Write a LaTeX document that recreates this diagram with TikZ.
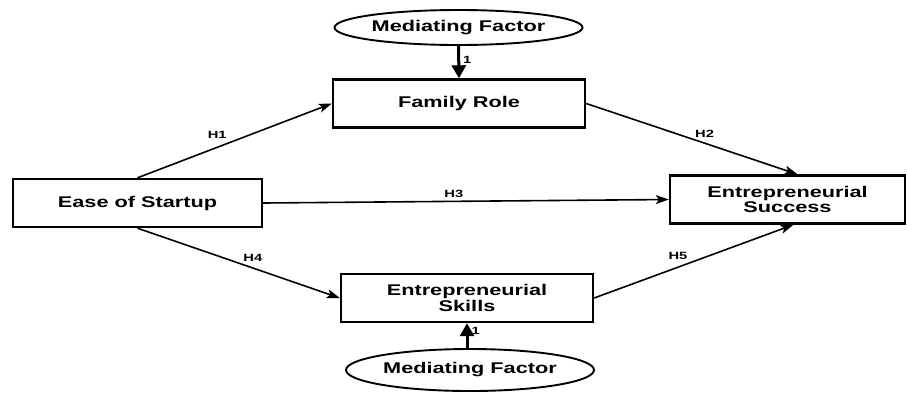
\documentclass[tikz,border=0pt]{standalone}
\usepackage{fontspec}
\setmainfont{Liberation Sans}[FakeStretch=1.4]
\usetikzlibrary{arrows.meta,shapes.geometric}

\begin{document}
\begin{tikzpicture}[x=1pt,y=-1pt,->,>={Stealth[length=13pt,width=9pt,inset=3pt]},
                    line width=1.6pt,
                    box/.style={draw,rectangle,line width=2.4pt,inner sep=0pt,
                                minimum width=#1,minimum height=48pt,align=center,
                                font=\fontsize{15.5}{13.5}\selectfont\bfseries},
                    med/.style={draw,ellipse,line width=1.9pt,inner sep=0pt,
                                minimum width=248pt,minimum height=#1,
                                font=\fontsize{15.5}{13.5}\selectfont\bfseries},
                    lbl/.style={font=\fontsize{10.5}{10.5}\selectfont\bfseries,inner sep=1pt},
                    feed/.style={line width=3pt,>={Triangle[length=13pt,width=14pt]}}]

  \useasboundingbox (0,0) rectangle (907,392);

  \node[box=249pt](ease)    at (137.5,203)  {Ease of Startup};
  \node[box=252pt](family)  at (459,103.5)  {Family Role};
  \node[box=252pt](skills)  at (467,298)    {Entrepreneurial\\Skills};
  \node[box=235pt](success) at (787.5,199.5) {Entrepreneurial\\Success};
  \node[med=35pt](medtop)   at (458.5,27.5) {Mediating Factor};
  \node[med=42pt](medbot)   at (470,370)    {Mediating Factor};

  % hypotheses
  \path (ease.north) edge node[lbl,pos=0.41,above=7pt] {H1} (family.west)
        (ease.east)  edge node[lbl,pos=0.47,above=2pt] {H3} (success.west)
        (ease.south) edge node[lbl,pos=0.57,above=5pt] {H4} (skills.west)
        (family.east) edge node[lbl,pos=0.56,above=4pt] {H2} ([xshift=10pt]success.north)
        (skills.east) edge node[lbl,pos=0.42,above=6pt] {H5} ([xshift=6pt]success.south);

  % mediators
  \path[feed] (medtop.south) edge node[lbl,pos=0.43,right=2pt] {1} (family.north)
              (skills.south |- medbot.north) edge node[lbl,pos=0.7,right=2pt] {1} (skills.south);

\end{tikzpicture}
\end{document}
